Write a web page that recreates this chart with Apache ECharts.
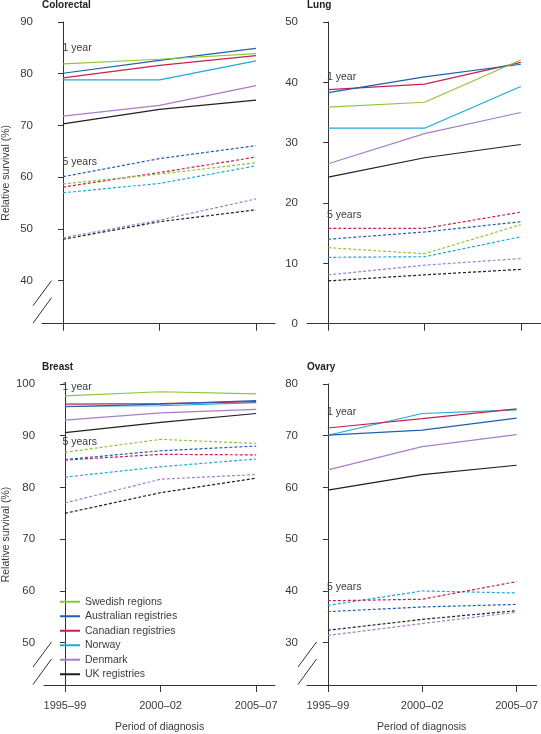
<!DOCTYPE html>
<html>
<head>
<meta charset="utf-8">
<script src="https://cdn.jsdelivr.net/npm/echarts@6/dist/echarts.min.js"></script>
<style>
html,body{margin:0;padding:0;background:#fff;}
#chart{width:541px;height:734px;}
</style>
</head>
<body>
<div id="chart"></div>
<script>
// ---- Data ----
const periods = ['1995–99', '2000–02', '2005–07'];
const registries = ['Swedish regions', 'Australian registries', 'Canadian registries', 'Norway', 'Denmark', 'UK registries'];
const registryColors = ['#8dc63f', '#1f5fad', '#c8204e', '#1ea9d9', '#a77fc9', '#231f20'];

// rows follow registries order; null = not available
const colorectal1Year = [
  [81.9, 82.8, 83.9],
  [80.1, 82.6, 84.9],
  [79.2, 81.6, 83.5],
  [78.8, 78.8, 82.5],
  [71.8, 73.9, 77.7],
  [70.3, 73.1, 74.9]
];
const colorectal5Year = [
  [58.7, 60.6, 62.8],
  [60.1, 63.6, 66.1],
  [58.1, 60.9, 63.9],
  [57.0, 58.8, 62.2],
  [48.3, 51.7, 55.8],
  [48.0, 51.4, 53.7]
];
const lung1Year = [
  [35.9, 36.7, 43.7],
  [38.3, 40.9, 43.0],
  [38.8, 39.7, 43.3],
  [32.4, 32.4, 39.3],
  [26.5, 31.5, 35.0],
  [24.3, 27.5, 29.7]
];
const lung5Year = [
  [12.6, 11.6, 16.4],
  [14.0, 15.2, 16.9],
  [15.8, 15.8, 18.5],
  [11.0, 11.1, 14.4],
  [8.1, 9.7, 10.8],
  [7.1, 8.1, 9.0]
];
const breast1Year = [
  [97.7, 98.5, 98.1],
  [95.6, 96.1, 96.8],
  [96.1, 96.2, 96.6],
  [95.7, 95.8, 96.4],
  [93.0, 94.4, 95.1],
  [90.6, 92.6, 94.3]
];
const breast5Year = [
  [86.8, 89.3, 88.5],
  [85.4, 87.1, 88.0],
  [85.3, 86.4, 86.3],
  [82.0, 84.0, 85.5],
  [77.0, 81.6, 82.5],
  [75.0, 79.0, 81.8]
];
const ovary1Year = [
  null,
  [70.1, 71.1, 73.4],
  [71.5, 73.3, 75.2],
  [70.1, 74.3, 75.0],
  [63.4, 67.9, 70.2],
  [59.5, 62.5, 64.3]
];
const ovary5Year = [
  null,
  [36.0, 36.9, 37.4],
  [38.1, 38.4, 41.8],
  [37.2, 40.0, 39.6],
  [31.4, 33.7, 35.9],
  [32.4, 34.5, 36.2]
];

const colorectalTicks = [40, 50, 60, 70, 80, 90];
const lungTicks = [0, 10, 20, 30, 40, 50];
const breastTicks = [50, 60, 70, 80, 90, 100];
const ovaryTicks = [30, 40, 50, 60, 70, 80];
const panelTitles = ['Colorectal', 'Lung', 'Breast', 'Ovary'];
const label1 = '1 year';
const label5 = '5 years';
const yAxisName = 'Relative survival (%)';
const xAxisName = 'Period of diagnosis';

// ---- Layout ----
const FONT = '"Liberation Sans", Arial, sans-serif';
const TXT = '#3a3a3a';
const AX = '#333333';

const panels = [
  { title: panelTitles[0], d1: colorectal1Year, d5: colorectal5Year, ticks: colorectalTicks,
    grid: { left: 42, top: 22, width: 233, height: 301.7 }, yMin: 31.69, yMax: 90,
    xMin: -0.218, xMax: 2.197, bottom: false, left: true, brk: true,
    l1: [62.5, 48], l5: [62.5, 162], titlePos: [42, 5] },
  { title: panelTitles[1], d1: lung1Year, d5: lung5Year, ticks: lungTicks,
    grid: { left: 307, top: 22, width: 234, height: 301.7 }, yMin: 0, yMax: 50,
    xMin: -0.221, xMax: 2.21, bottom: false, left: false, brk: false,
    l1: [327, 77], l5: [327, 215], titlePos: [307, 5] },
  { title: panelTitles[2], d1: breast1Year, d5: breast5Year, ticks: breastTicks,
    grid: { left: 42, top: 384, width: 233, height: 301 }, yMin: 41.82, yMax: 100,
    xMin: -0.218, xMax: 2.197, bottom: true, left: true, brk: true,
    l1: [62.5, 387], l5: [62.5, 442.5], titlePos: [42, 367] },
  { title: panelTitles[3], d1: ovary1Year, d5: ovary5Year, ticks: ovaryTicks,
    grid: { left: 307, top: 384, width: 234, height: 301 }, yMin: 21.82, yMax: 80,
    xMin: -0.221, xMax: 2.21, bottom: true, left: false, brk: true,
    l1: [327, 412], l5: [327, 587.5], titlePos: [307, 367] }
];

const grids = [], xAxes = [], yAxes = [], series = [], graphics = [];

panels.forEach((p, i) => {
  grids.push(Object.assign({ containLabel: false }, p.grid));
  xAxes.push({
    type: 'value', gridIndex: i, min: p.xMin, max: p.xMax,
    splitLine: { show: false },
    axisLine: { show: true, lineStyle: { color: AX, width: 1 } },
    axisTick: { show: true, customValues: [0, 1, 2], length: 7, lineStyle: { color: AX, width: 1 } },
    axisLabel: { show: p.bottom, customValues: [0, 1, 2], margin: 15,
      formatter: v => periods[Math.round(v)], color: TXT, fontSize: 11, fontFamily: FONT },
    name: p.bottom ? xAxisName : '', nameLocation: 'middle', nameGap: 37,
    nameTextStyle: { color: TXT, fontSize: 10.5, fontFamily: FONT }
  });
  yAxes.push({
    type: 'value', gridIndex: i, min: p.yMin, max: p.yMax,
    splitLine: { show: false },
    axisLine: { show: true, lineStyle: { color: AX, width: 1 } },
    axisTick: { show: true, customValues: p.ticks, length: 5, lineStyle: { color: AX, width: 1 } },
    axisLabel: { customValues: p.ticks, margin: 9, color: TXT, fontSize: 11.5, fontFamily: FONT },
    name: p.left ? yAxisName : '', nameLocation: 'middle', nameGap: 30,
    nameTextStyle: { color: TXT, fontSize: 10.5, fontFamily: FONT }
  });

  [[p.d1, 'solid'], [p.d5, [3, 2]]].forEach(([dataset, dash]) => {
    dataset.forEach((row, k) => {
      if (!row) return;
      series.push({
        type: 'line', name: registries[k], xAxisIndex: i, yAxisIndex: i,
        data: row.map((v, j) => [j, v]),
        symbol: 'none', silent: true,
        color: registryColors[k],
        lineStyle: { color: registryColors[k], width: 1.2, type: dash },
        z: 10 - k
      });
    });
  });

  graphics.push({ type: 'text', x: p.titlePos[0], y: p.titlePos[1], z: 100,
    style: { text: p.title, fill: '#222', font: 'bold 10px ' + FONT, verticalAlign: 'middle', align: 'left' } });
  graphics.push({ type: 'text', x: p.l1[0], y: p.l1[1], z: 100,
    style: { text: label1, fill: TXT, font: '10.5px ' + FONT, verticalAlign: 'middle', align: 'left' } });
  graphics.push({ type: 'text', x: p.l5[0], y: p.l5[1], z: 100,
    style: { text: label5, fill: TXT, font: '10.5px ' + FONT, verticalAlign: 'middle', align: 'left' } });

  if (p.brk) {
    const ax = p.grid.left, by = p.grid.top + p.grid.height;
    graphics.push({ type: 'rect', z: 100, shape: { x: ax - 2, y: by - 30.5, width: 4, height: 17.5 }, style: { fill: '#fff' } });
    graphics.push({ type: 'line', z: 101, shape: { x1: ax + 9.5, y1: by - 43, x2: ax - 9, y2: by - 18 }, style: { stroke: AX, lineWidth: 1 } });
    graphics.push({ type: 'line', z: 101, shape: { x1: ax + 9.5, y1: by - 26, x2: ax - 9, y2: by - 0.5 }, style: { stroke: AX, lineWidth: 1 } });
  }
});

const chart = echarts.init(document.getElementById('chart'), null, { renderer: 'canvas' });
chart.setOption({
  animation: false,
  backgroundColor: '#fff',
  textStyle: { fontFamily: FONT },
  grid: grids,
  xAxis: xAxes,
  yAxis: yAxes,
  legend: {
    data: registries.map(n => ({ name: n, icon: 'rect' })),
    orient: 'vertical', left: 60, top: 594.5,
    itemWidth: 20, itemHeight: 2, itemGap: 0, padding: 0,
    textStyle: { color: TXT, fontSize: 10.5, lineHeight: 14.5, height: 14.5, fontFamily: FONT }
  },
  graphic: graphics,
  series: series
});
</script>
</body>
</html>
